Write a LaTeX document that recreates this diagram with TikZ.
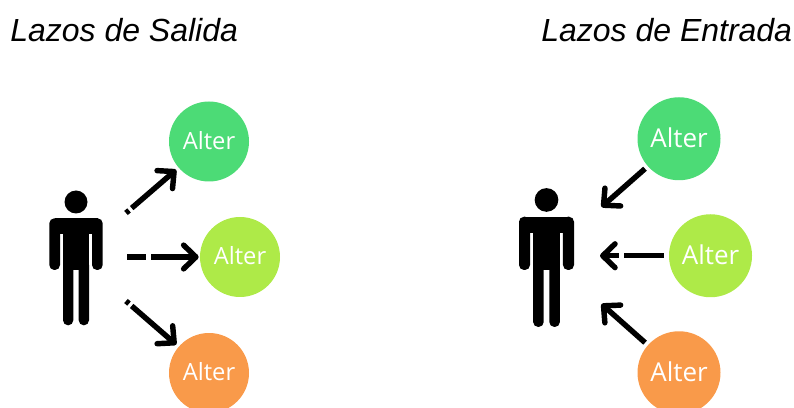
\documentclass[tikz,border=0pt]{standalone}
\usepackage{fontspec}
\setmainfont{Liberation Sans}
\newfontfamily\alterfont{Open Sans}
\usetikzlibrary{arrows.meta}
\definecolor{altergreen}{HTML}{4CDB76}
\definecolor{alterlime}{HTML}{AEEA48}
\definecolor{alterorange}{HTML}{F99A4A}
\tikzset{
    alter/.style={circle, inner sep=0pt, minimum size=1.6cm, text=white, text depth=1.7pt, font=\alterfont\fontsize{13.5}{15}\selectfont},
    alterbig/.style={alter, minimum size=1.66cm, font=\alterfont\fontsize{14.8}{16}\selectfont},
    titulo/.style={anchor=west, inner sep=0pt, font=\fontsize{18.2}{21}\selectfont\itshape},
    lazo/.style={-{Straight Barb[length=7pt, width=13.5pt, round]}, line width=3.1pt},
    person/.pic={
        \fill (0,1.36) circle (0.23);
        \fill (-0.43,0.72) rectangle (0.43,1.034);
        \fill (-0.26,0.8) rectangle (0.26,0);
        \fill[rounded corners=0.1cm] (-0.534,1.034) rectangle (-0.32,0);
        \fill[rounded corners=0.1cm] (0.32,1.034) rectangle (0.534,0);
        \fill[rounded corners=0.1cm] (-0.26,0.2) rectangle (-0.054,-1.106);
        \fill[rounded corners=0.1cm] (0.054,0.2) rectangle (0.26,-1.106);
    },
}
\begin{document}
\begin{tikzpicture}
    \useasboundingbox (0,0) rectangle (15.88,8.14);
    % salida
    \node[titulo] (tsalida) at (0.2,7.54) {Lazos de Salida};
    \pic at (1.52,2.74) {person};
    \node[alter, fill=altergreen] (a1) at (4.18,5.31) {Alter};
    \node[alter, fill=alterlime] (a2) at (4.8,3.0) {Alter};
    \node[alter, fill=alterorange] (a3) at (4.18,0.68) {Alter};
    \coordinate (s1) at (2.52,3.88);
    \coordinate (s2) at (2.54,3.0);
    \coordinate (s3) at (2.52,2.12);
    \draw[lazo, shorten >=0.06cm, dash pattern=on 0.08cm off 0.07cm on 4cm] (s1) -- (a1);
    \draw[lazo, shorten >=0.02cm, dash pattern=on 0.38cm off 0.1cm on 4cm] (s2) -- (a2);
    \draw[lazo, shorten >=0.06cm, dash pattern=on 0.08cm off 0.07cm on 4cm] (s3) -- (a3);
    % entrada
    \node[titulo] (tentrada) at (10.82,7.54) {Lazos de Entrada};
    \pic[scale=1.03] at (10.93,2.74) {person};
    \node[alterbig, fill=altergreen] (b1) at (13.58,5.365) {Alter};
    \node[alterbig, fill=alterlime] (b2) at (14.21,3.025) {Alter};
    \node[alterbig, fill=alterorange] (b3) at (13.58,0.685) {Alter};
    \coordinate (e1) at (12.03,4.0);
    \coordinate (e2) at (12.0,3.025);
    \coordinate (e3) at (12.03,2.06);
    \draw[lazo, shorten <=0.07cm] (b1) -- (e1);
    \draw[lazo, shorten <=0.1cm, dash pattern=on 0.8cm off 0.1cm on 4cm] (b2) -- (e2);
    \draw[lazo, shorten <=0.07cm] (b3) -- (e3);
\end{tikzpicture}
\end{document}
